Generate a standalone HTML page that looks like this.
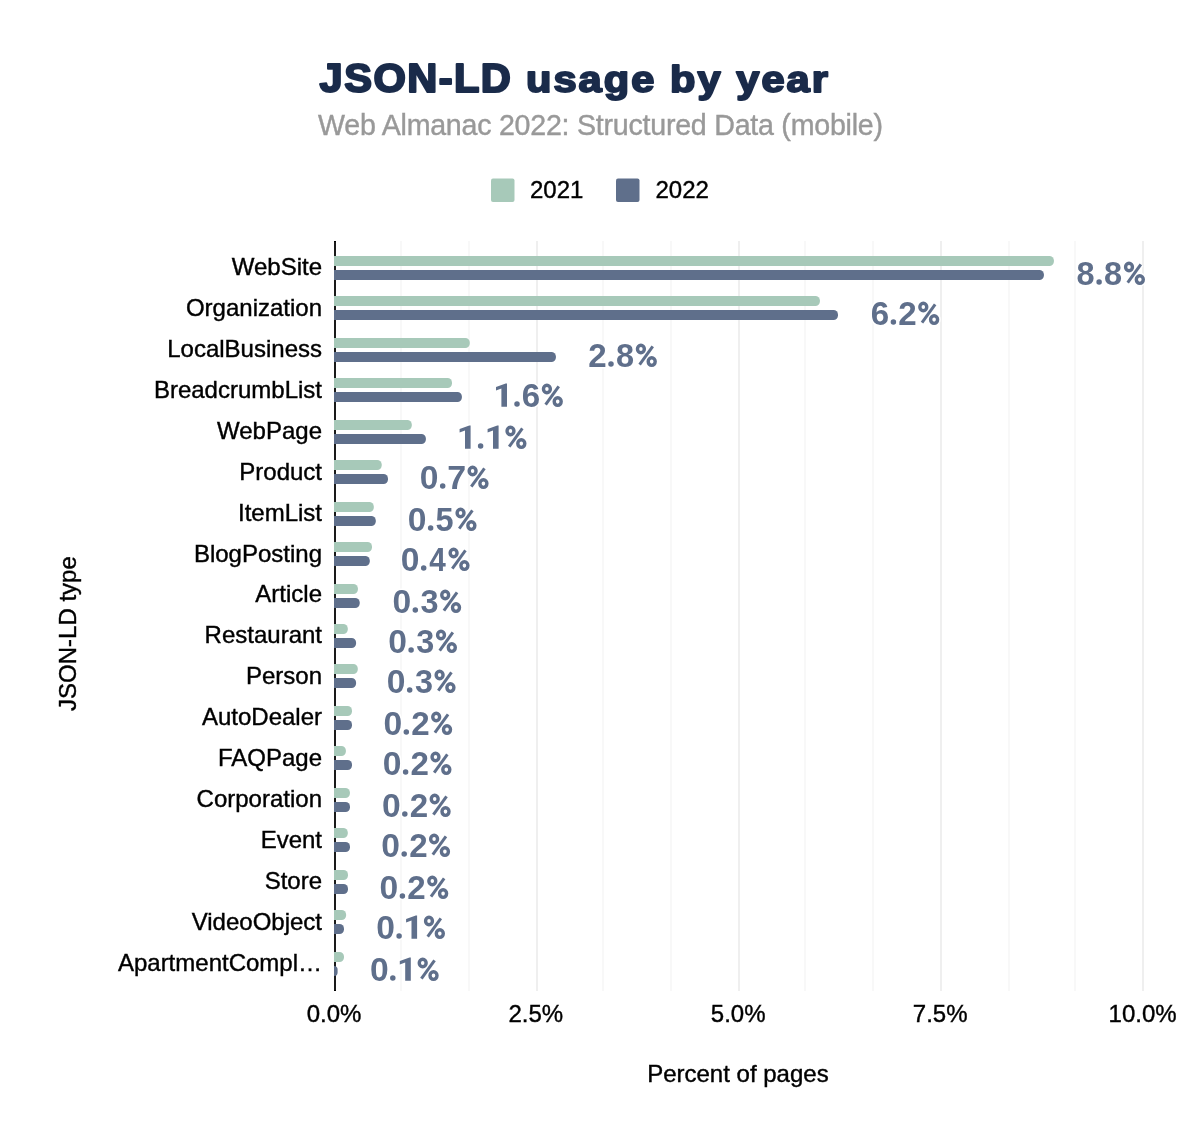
<!DOCTYPE html>
<html><head><meta charset="utf-8"><style>
html,body{margin:0;padding:0;background:#fff;}
svg{display:block;will-change:transform;}
text{font-family:"Liberation Sans",sans-serif;}
.yl{font-size:24px;fill:#000;text-anchor:end;stroke:#000;stroke-width:0.4px;}
.xl{font-size:24px;fill:#000;text-anchor:middle;stroke:#000;stroke-width:0.4px;}
.v{font-size:32.8px;font-weight:bold;fill:#5f6f8b;}
.t{font-size:41.6px;font-weight:bold;fill:#1a2b4a;stroke:#1a2b4a;stroke-width:2.2px;stroke-linejoin:round;}
.st{font-size:28.6px;fill:#999;letter-spacing:-0.24px;stroke:#999;stroke-width:0.4px;}
.lg{font-size:24px;fill:#000;stroke:#000;stroke-width:0.4px;}
</style></head><body>
<svg width="1200" height="1144" viewBox="0 0 1200 1144">
<text transform="translate(319.6,92.0) scale(1.0,0.975)" class="t" style="letter-spacing:1.45px">JSON-LD</text>
<text transform="translate(526,92.0) scale(1.0,0.87)" class="t" style="letter-spacing:2.05px">usage by year</text>
<text x="318" y="134.5" class="st">Web Almanac 2022: Structured Data (mobile)</text>
<rect x="491" y="178.4" width="23.5" height="23.5" rx="2" fill="#a7c9b9"/>
<text x="530" y="197.6" class="lg">2021</text>
<rect x="616" y="178.4" width="23.5" height="23.5" rx="2" fill="#5f6f8b"/>
<text x="655.5" y="197.6" class="lg">2022</text>
<rect x="400" y="241" width="2" height="750" fill="#f8f8f8"/>
<rect x="468" y="241" width="2" height="750" fill="#f8f8f8"/>
<rect x="602" y="241" width="2" height="750" fill="#f8f8f8"/>
<rect x="670" y="241" width="2" height="750" fill="#f8f8f8"/>
<rect x="804" y="241" width="2" height="750" fill="#f8f8f8"/>
<rect x="872" y="241" width="2" height="750" fill="#f8f8f8"/>
<rect x="1008" y="241" width="2" height="750" fill="#f8f8f8"/>
<rect x="1074" y="241" width="2" height="750" fill="#f8f8f8"/>
<rect x="536" y="241" width="2" height="750" fill="#efefef"/>
<rect x="738" y="241" width="2" height="750" fill="#efefef"/>
<rect x="940" y="241" width="2" height="750" fill="#efefef"/>
<rect x="1142" y="241" width="2" height="750" fill="#efefef"/>
<rect x="334" y="241" width="2" height="750" fill="#1a1a1a"/>
<rect x="334" y="241" width="2" height="1" fill="#000"/>
<rect x="334" y="990" width="2" height="1" fill="#000"/>
<path d="M334.0,256h715.40a4.5,4.5 0 0 1 4.5,4.5v1.0a4.5,4.5 0 0 1 -4.5,4.5h-715.40z" fill="#a7c9b9"/>
<path d="M334.0,270h705.40a4.5,4.5 0 0 1 4.5,4.5v1.0a4.5,4.5 0 0 1 -4.5,4.5h-705.40z" fill="#5f6f8b"/>
<text transform="translate(1076.48,285.00) scale(0.991,1.025)" class="v" style="fill:#fff" stroke="#fff" stroke-width="3.0" stroke-linejoin="round">8</text><text transform="translate(1104.08,285.00) scale(0.991,1.025)" class="v" style="fill:#fff" stroke="#fff" stroke-width="3.0" stroke-linejoin="round">8</text><circle cx="1099.10" cy="282.05" r="2.75" fill="#fff" stroke="#fff" stroke-width="3.0" stroke-linejoin="round"/><ellipse cx="1129.00" cy="267.00" rx="3.45" ry="3.80" fill="none" stroke="#fff" stroke-width="6.4"/><ellipse cx="1139.80" cy="279.60" rx="3.50" ry="3.80" fill="none" stroke="#fff" stroke-width="6.4"/><line x1="1127.70" y1="282.60" x2="1140.85" y2="264.35" stroke="#fff" stroke-width="6.0"/><text transform="translate(1076.48,285.00) scale(0.991,1.025)" class="v" style="fill:#5f6f8b">8</text><text transform="translate(1104.08,285.00) scale(0.991,1.025)" class="v" style="fill:#5f6f8b">8</text><circle cx="1099.10" cy="282.05" r="2.75" fill="#5f6f8b"/><ellipse cx="1129.00" cy="267.00" rx="3.45" ry="3.80" fill="none" stroke="#5f6f8b" stroke-width="3.4"/><ellipse cx="1139.80" cy="279.60" rx="3.50" ry="3.80" fill="none" stroke="#5f6f8b" stroke-width="3.4"/><line x1="1127.70" y1="282.60" x2="1140.85" y2="264.35" stroke="#5f6f8b" stroke-width="3"/>
<text x="322" y="275.00" class="yl">WebSite</text>
<path d="M334.0,296h481.40a4.5,4.5 0 0 1 4.5,4.5v1.0a4.5,4.5 0 0 1 -4.5,4.5h-481.40z" fill="#a7c9b9"/>
<path d="M334.0,310h499.50a4.5,4.5 0 0 1 4.5,4.5v1.0a4.5,4.5 0 0 1 -4.5,4.5h-499.50z" fill="#5f6f8b"/>
<text transform="translate(870.65,325.00) scale(1.009,1.025)" class="v" style="fill:#fff" stroke="#fff" stroke-width="3.0" stroke-linejoin="round">6</text><text transform="translate(898.33,325.00) scale(1.010,1.025)" class="v" style="fill:#fff" stroke="#fff" stroke-width="3.0" stroke-linejoin="round">2</text><circle cx="893.40" cy="322.05" r="2.75" fill="#fff" stroke="#fff" stroke-width="3.0" stroke-linejoin="round"/><ellipse cx="923.30" cy="307.00" rx="3.45" ry="3.80" fill="none" stroke="#fff" stroke-width="6.4"/><ellipse cx="934.10" cy="319.60" rx="3.50" ry="3.80" fill="none" stroke="#fff" stroke-width="6.4"/><line x1="922.00" y1="322.60" x2="935.15" y2="304.35" stroke="#fff" stroke-width="6.0"/><text transform="translate(870.65,325.00) scale(1.009,1.025)" class="v" style="fill:#5f6f8b">6</text><text transform="translate(898.33,325.00) scale(1.010,1.025)" class="v" style="fill:#5f6f8b">2</text><circle cx="893.40" cy="322.05" r="2.75" fill="#5f6f8b"/><ellipse cx="923.30" cy="307.00" rx="3.45" ry="3.80" fill="none" stroke="#5f6f8b" stroke-width="3.4"/><ellipse cx="934.10" cy="319.60" rx="3.50" ry="3.80" fill="none" stroke="#5f6f8b" stroke-width="3.4"/><line x1="922.00" y1="322.60" x2="935.15" y2="304.35" stroke="#5f6f8b" stroke-width="3"/>
<text x="322" y="315.93" class="yl">Organization</text>
<path d="M334.0,338h131.30a4.5,4.5 0 0 1 4.5,4.5v1.0a4.5,4.5 0 0 1 -4.5,4.5h-131.30z" fill="#a7c9b9"/>
<path d="M334.0,352h217.40a4.5,4.5 0 0 1 4.5,4.5v1.0a4.5,4.5 0 0 1 -4.5,4.5h-217.40z" fill="#5f6f8b"/>
<text transform="translate(588.33,367.00) scale(1.010,1.025)" class="v" style="fill:#fff" stroke="#fff" stroke-width="3.0" stroke-linejoin="round">2</text><text transform="translate(615.98,367.00) scale(0.991,1.025)" class="v" style="fill:#fff" stroke="#fff" stroke-width="3.0" stroke-linejoin="round">8</text><circle cx="611.00" cy="364.05" r="2.75" fill="#fff" stroke="#fff" stroke-width="3.0" stroke-linejoin="round"/><ellipse cx="640.90" cy="349.00" rx="3.45" ry="3.80" fill="none" stroke="#fff" stroke-width="6.4"/><ellipse cx="651.70" cy="361.60" rx="3.50" ry="3.80" fill="none" stroke="#fff" stroke-width="6.4"/><line x1="639.60" y1="364.60" x2="652.75" y2="346.35" stroke="#fff" stroke-width="6.0"/><text transform="translate(588.33,367.00) scale(1.010,1.025)" class="v" style="fill:#5f6f8b">2</text><text transform="translate(615.98,367.00) scale(0.991,1.025)" class="v" style="fill:#5f6f8b">8</text><circle cx="611.00" cy="364.05" r="2.75" fill="#5f6f8b"/><ellipse cx="640.90" cy="349.00" rx="3.45" ry="3.80" fill="none" stroke="#5f6f8b" stroke-width="3.4"/><ellipse cx="651.70" cy="361.60" rx="3.50" ry="3.80" fill="none" stroke="#5f6f8b" stroke-width="3.4"/><line x1="639.60" y1="364.60" x2="652.75" y2="346.35" stroke="#5f6f8b" stroke-width="3"/>
<text x="322" y="356.86" class="yl">LocalBusiness</text>
<path d="M334.0,378h113.50a4.5,4.5 0 0 1 4.5,4.5v1.0a4.5,4.5 0 0 1 -4.5,4.5h-113.50z" fill="#a7c9b9"/>
<path d="M334.0,392h123.40a4.5,4.5 0 0 1 4.5,4.5v1.0a4.5,4.5 0 0 1 -4.5,4.5h-123.40z" fill="#5f6f8b"/>
<polygon points="507.00,383.50 507.00,406.80 501.40,406.80 501.40,388.60 496.00,390.50 496.00,387.00 505.70,383.50" fill="#fff" stroke="#fff" stroke-width="3.0" stroke-linejoin="round"/><text transform="translate(521.85,407.00) scale(1.009,1.025)" class="v" style="fill:#fff" stroke="#fff" stroke-width="3.0" stroke-linejoin="round">6</text><circle cx="517.00" cy="404.05" r="2.75" fill="#fff" stroke="#fff" stroke-width="3.0" stroke-linejoin="round"/><ellipse cx="546.90" cy="389.00" rx="3.45" ry="3.80" fill="none" stroke="#fff" stroke-width="6.4"/><ellipse cx="557.70" cy="401.60" rx="3.50" ry="3.80" fill="none" stroke="#fff" stroke-width="6.4"/><line x1="545.60" y1="404.60" x2="558.75" y2="386.35" stroke="#fff" stroke-width="6.0"/><polygon points="507.00,383.50 507.00,406.80 501.40,406.80 501.40,388.60 496.00,390.50 496.00,387.00 505.70,383.50" fill="#5f6f8b"/><text transform="translate(521.85,407.00) scale(1.009,1.025)" class="v" style="fill:#5f6f8b">6</text><circle cx="517.00" cy="404.05" r="2.75" fill="#5f6f8b"/><ellipse cx="546.90" cy="389.00" rx="3.45" ry="3.80" fill="none" stroke="#5f6f8b" stroke-width="3.4"/><ellipse cx="557.70" cy="401.60" rx="3.50" ry="3.80" fill="none" stroke="#5f6f8b" stroke-width="3.4"/><line x1="545.60" y1="404.60" x2="558.75" y2="386.35" stroke="#5f6f8b" stroke-width="3"/>
<text x="322" y="397.79" class="yl">BreadcrumbList</text>
<path d="M334.0,420h73.30a4.5,4.5 0 0 1 4.5,4.5v1.0a4.5,4.5 0 0 1 -4.5,4.5h-73.30z" fill="#a7c9b9"/>
<path d="M334.0,434h87.40a4.5,4.5 0 0 1 4.5,4.5v1.0a4.5,4.5 0 0 1 -4.5,4.5h-87.40z" fill="#5f6f8b"/>
<polygon points="470.60,425.50 470.60,448.80 465.00,448.80 465.00,430.60 459.60,432.50 459.60,429.00 469.30,425.50" fill="#fff" stroke="#fff" stroke-width="3.0" stroke-linejoin="round"/><polygon points="498.60,425.50 498.60,448.80 493.00,448.80 493.00,430.60 487.60,432.50 487.60,429.00 497.30,425.50" fill="#fff" stroke="#fff" stroke-width="3.0" stroke-linejoin="round"/><circle cx="480.60" cy="446.05" r="2.75" fill="#fff" stroke="#fff" stroke-width="3.0" stroke-linejoin="round"/><ellipse cx="510.50" cy="431.00" rx="3.45" ry="3.80" fill="none" stroke="#fff" stroke-width="6.4"/><ellipse cx="521.30" cy="443.60" rx="3.50" ry="3.80" fill="none" stroke="#fff" stroke-width="6.4"/><line x1="509.20" y1="446.60" x2="522.35" y2="428.35" stroke="#fff" stroke-width="6.0"/><polygon points="470.60,425.50 470.60,448.80 465.00,448.80 465.00,430.60 459.60,432.50 459.60,429.00 469.30,425.50" fill="#5f6f8b"/><polygon points="498.60,425.50 498.60,448.80 493.00,448.80 493.00,430.60 487.60,432.50 487.60,429.00 497.30,425.50" fill="#5f6f8b"/><circle cx="480.60" cy="446.05" r="2.75" fill="#5f6f8b"/><ellipse cx="510.50" cy="431.00" rx="3.45" ry="3.80" fill="none" stroke="#5f6f8b" stroke-width="3.4"/><ellipse cx="521.30" cy="443.60" rx="3.50" ry="3.80" fill="none" stroke="#5f6f8b" stroke-width="3.4"/><line x1="509.20" y1="446.60" x2="522.35" y2="428.35" stroke="#5f6f8b" stroke-width="3"/>
<text x="322" y="438.72" class="yl">WebPage</text>
<path d="M334.0,460h43.20a4.5,4.5 0 0 1 4.5,4.5v1.0a4.5,4.5 0 0 1 -4.5,4.5h-43.20z" fill="#a7c9b9"/>
<path d="M334.0,474h49.50a4.5,4.5 0 0 1 4.5,4.5v1.0a4.5,4.5 0 0 1 -4.5,4.5h-49.50z" fill="#5f6f8b"/>
<text transform="translate(419.83,489.00) scale(1.025,1.025)" class="v" style="fill:#fff" stroke="#fff" stroke-width="3.0" stroke-linejoin="round">0</text><text transform="translate(447.33,489.00) scale(1.035,1.025)" class="v" style="fill:#fff" stroke="#fff" stroke-width="3.0" stroke-linejoin="round">7</text><circle cx="442.70" cy="486.05" r="2.75" fill="#fff" stroke="#fff" stroke-width="3.0" stroke-linejoin="round"/><ellipse cx="472.60" cy="471.00" rx="3.45" ry="3.80" fill="none" stroke="#fff" stroke-width="6.4"/><ellipse cx="483.40" cy="483.60" rx="3.50" ry="3.80" fill="none" stroke="#fff" stroke-width="6.4"/><line x1="471.30" y1="486.60" x2="484.45" y2="468.35" stroke="#fff" stroke-width="6.0"/><text transform="translate(419.83,489.00) scale(1.025,1.025)" class="v" style="fill:#5f6f8b">0</text><text transform="translate(447.33,489.00) scale(1.035,1.025)" class="v" style="fill:#5f6f8b">7</text><circle cx="442.70" cy="486.05" r="2.75" fill="#5f6f8b"/><ellipse cx="472.60" cy="471.00" rx="3.45" ry="3.80" fill="none" stroke="#5f6f8b" stroke-width="3.4"/><ellipse cx="483.40" cy="483.60" rx="3.50" ry="3.80" fill="none" stroke="#5f6f8b" stroke-width="3.4"/><line x1="471.30" y1="486.60" x2="484.45" y2="468.35" stroke="#5f6f8b" stroke-width="3"/>
<text x="322" y="479.65" class="yl">Product</text>
<path d="M334.0,502h35.30a4.5,4.5 0 0 1 4.5,4.5v1.0a4.5,4.5 0 0 1 -4.5,4.5h-35.30z" fill="#a7c9b9"/>
<path d="M334.0,516h37.30a4.5,4.5 0 0 1 4.5,4.5v1.0a4.5,4.5 0 0 1 -4.5,4.5h-37.30z" fill="#5f6f8b"/>
<text transform="translate(407.78,531.00) scale(1.025,1.025)" class="v" style="fill:#fff" stroke="#fff" stroke-width="3.0" stroke-linejoin="round">0</text><text transform="translate(435.55,531.00) scale(0.990,1.025)" class="v" style="fill:#fff" stroke="#fff" stroke-width="3.0" stroke-linejoin="round">5</text><circle cx="430.65" cy="528.05" r="2.75" fill="#fff" stroke="#fff" stroke-width="3.0" stroke-linejoin="round"/><ellipse cx="460.55" cy="513.00" rx="3.45" ry="3.80" fill="none" stroke="#fff" stroke-width="6.4"/><ellipse cx="471.35" cy="525.60" rx="3.50" ry="3.80" fill="none" stroke="#fff" stroke-width="6.4"/><line x1="459.25" y1="528.60" x2="472.40" y2="510.35" stroke="#fff" stroke-width="6.0"/><text transform="translate(407.78,531.00) scale(1.025,1.025)" class="v" style="fill:#5f6f8b">0</text><text transform="translate(435.55,531.00) scale(0.990,1.025)" class="v" style="fill:#5f6f8b">5</text><circle cx="430.65" cy="528.05" r="2.75" fill="#5f6f8b"/><ellipse cx="460.55" cy="513.00" rx="3.45" ry="3.80" fill="none" stroke="#5f6f8b" stroke-width="3.4"/><ellipse cx="471.35" cy="525.60" rx="3.50" ry="3.80" fill="none" stroke="#5f6f8b" stroke-width="3.4"/><line x1="459.25" y1="528.60" x2="472.40" y2="510.35" stroke="#5f6f8b" stroke-width="3"/>
<text x="322" y="520.58" class="yl">ItemList</text>
<path d="M334.0,542h33.50a4.5,4.5 0 0 1 4.5,4.5v1.0a4.5,4.5 0 0 1 -4.5,4.5h-33.50z" fill="#a7c9b9"/>
<path d="M334.0,556h31.30a4.5,4.5 0 0 1 4.5,4.5v1.0a4.5,4.5 0 0 1 -4.5,4.5h-31.30z" fill="#5f6f8b"/>
<text transform="translate(400.83,571.00) scale(1.025,1.025)" class="v" style="fill:#fff" stroke="#fff" stroke-width="3.0" stroke-linejoin="round">0</text><text transform="translate(429.34,571.00) scale(0.906,1.025)" class="v" style="fill:#fff" stroke="#fff" stroke-width="3.0" stroke-linejoin="round">4</text><circle cx="423.70" cy="568.05" r="2.75" fill="#fff" stroke="#fff" stroke-width="3.0" stroke-linejoin="round"/><ellipse cx="453.60" cy="553.00" rx="3.45" ry="3.80" fill="none" stroke="#fff" stroke-width="6.4"/><ellipse cx="464.40" cy="565.60" rx="3.50" ry="3.80" fill="none" stroke="#fff" stroke-width="6.4"/><line x1="452.30" y1="568.60" x2="465.45" y2="550.35" stroke="#fff" stroke-width="6.0"/><text transform="translate(400.83,571.00) scale(1.025,1.025)" class="v" style="fill:#5f6f8b">0</text><text transform="translate(429.34,571.00) scale(0.906,1.025)" class="v" style="fill:#5f6f8b">4</text><circle cx="423.70" cy="568.05" r="2.75" fill="#5f6f8b"/><ellipse cx="453.60" cy="553.00" rx="3.45" ry="3.80" fill="none" stroke="#5f6f8b" stroke-width="3.4"/><ellipse cx="464.40" cy="565.60" rx="3.50" ry="3.80" fill="none" stroke="#5f6f8b" stroke-width="3.4"/><line x1="452.30" y1="568.60" x2="465.45" y2="550.35" stroke="#5f6f8b" stroke-width="3"/>
<text x="322" y="561.51" class="yl">BlogPosting</text>
<path d="M334.0,584h19.40a4.5,4.5 0 0 1 4.5,4.5v1.0a4.5,4.5 0 0 1 -4.5,4.5h-19.40z" fill="#a7c9b9"/>
<path d="M334.0,598h21.20a4.5,4.5 0 0 1 4.5,4.5v1.0a4.5,4.5 0 0 1 -4.5,4.5h-21.20z" fill="#5f6f8b"/>
<text transform="translate(392.43,613.00) scale(1.025,1.025)" class="v" style="fill:#fff" stroke="#fff" stroke-width="3.0" stroke-linejoin="round">0</text><text transform="translate(420.51,613.00) scale(0.988,1.025)" class="v" style="fill:#fff" stroke="#fff" stroke-width="3.0" stroke-linejoin="round">3</text><circle cx="415.30" cy="610.05" r="2.75" fill="#fff" stroke="#fff" stroke-width="3.0" stroke-linejoin="round"/><ellipse cx="445.20" cy="595.00" rx="3.45" ry="3.80" fill="none" stroke="#fff" stroke-width="6.4"/><ellipse cx="456.00" cy="607.60" rx="3.50" ry="3.80" fill="none" stroke="#fff" stroke-width="6.4"/><line x1="443.90" y1="610.60" x2="457.05" y2="592.35" stroke="#fff" stroke-width="6.0"/><text transform="translate(392.43,613.00) scale(1.025,1.025)" class="v" style="fill:#5f6f8b">0</text><text transform="translate(420.51,613.00) scale(0.988,1.025)" class="v" style="fill:#5f6f8b">3</text><circle cx="415.30" cy="610.05" r="2.75" fill="#5f6f8b"/><ellipse cx="445.20" cy="595.00" rx="3.45" ry="3.80" fill="none" stroke="#5f6f8b" stroke-width="3.4"/><ellipse cx="456.00" cy="607.60" rx="3.50" ry="3.80" fill="none" stroke="#5f6f8b" stroke-width="3.4"/><line x1="443.90" y1="610.60" x2="457.05" y2="592.35" stroke="#5f6f8b" stroke-width="3"/>
<text x="322" y="602.44" class="yl">Article</text>
<path d="M334.0,624h9.30a4.5,4.5 0 0 1 4.5,4.5v1.0a4.5,4.5 0 0 1 -4.5,4.5h-9.30z" fill="#a7c9b9"/>
<path d="M334.0,638h17.60a4.5,4.5 0 0 1 4.5,4.5v1.0a4.5,4.5 0 0 1 -4.5,4.5h-17.60z" fill="#5f6f8b"/>
<text transform="translate(388.23,653.00) scale(1.025,1.025)" class="v" style="fill:#fff" stroke="#fff" stroke-width="3.0" stroke-linejoin="round">0</text><text transform="translate(416.31,653.00) scale(0.988,1.025)" class="v" style="fill:#fff" stroke="#fff" stroke-width="3.0" stroke-linejoin="round">3</text><circle cx="411.10" cy="650.05" r="2.75" fill="#fff" stroke="#fff" stroke-width="3.0" stroke-linejoin="round"/><ellipse cx="441.00" cy="635.00" rx="3.45" ry="3.80" fill="none" stroke="#fff" stroke-width="6.4"/><ellipse cx="451.80" cy="647.60" rx="3.50" ry="3.80" fill="none" stroke="#fff" stroke-width="6.4"/><line x1="439.70" y1="650.60" x2="452.85" y2="632.35" stroke="#fff" stroke-width="6.0"/><text transform="translate(388.23,653.00) scale(1.025,1.025)" class="v" style="fill:#5f6f8b">0</text><text transform="translate(416.31,653.00) scale(0.988,1.025)" class="v" style="fill:#5f6f8b">3</text><circle cx="411.10" cy="650.05" r="2.75" fill="#5f6f8b"/><ellipse cx="441.00" cy="635.00" rx="3.45" ry="3.80" fill="none" stroke="#5f6f8b" stroke-width="3.4"/><ellipse cx="451.80" cy="647.60" rx="3.50" ry="3.80" fill="none" stroke="#5f6f8b" stroke-width="3.4"/><line x1="439.70" y1="650.60" x2="452.85" y2="632.35" stroke="#5f6f8b" stroke-width="3"/>
<text x="322" y="643.37" class="yl">Restaurant</text>
<path d="M334.0,664h19.30a4.5,4.5 0 0 1 4.5,4.5v1.0a4.5,4.5 0 0 1 -4.5,4.5h-19.30z" fill="#a7c9b9"/>
<path d="M334.0,678h17.60a4.5,4.5 0 0 1 4.5,4.5v1.0a4.5,4.5 0 0 1 -4.5,4.5h-17.60z" fill="#5f6f8b"/>
<text transform="translate(386.83,693.00) scale(1.025,1.025)" class="v" style="fill:#fff" stroke="#fff" stroke-width="3.0" stroke-linejoin="round">0</text><text transform="translate(414.91,693.00) scale(0.988,1.025)" class="v" style="fill:#fff" stroke="#fff" stroke-width="3.0" stroke-linejoin="round">3</text><circle cx="409.70" cy="690.05" r="2.75" fill="#fff" stroke="#fff" stroke-width="3.0" stroke-linejoin="round"/><ellipse cx="439.60" cy="675.00" rx="3.45" ry="3.80" fill="none" stroke="#fff" stroke-width="6.4"/><ellipse cx="450.40" cy="687.60" rx="3.50" ry="3.80" fill="none" stroke="#fff" stroke-width="6.4"/><line x1="438.30" y1="690.60" x2="451.45" y2="672.35" stroke="#fff" stroke-width="6.0"/><text transform="translate(386.83,693.00) scale(1.025,1.025)" class="v" style="fill:#5f6f8b">0</text><text transform="translate(414.91,693.00) scale(0.988,1.025)" class="v" style="fill:#5f6f8b">3</text><circle cx="409.70" cy="690.05" r="2.75" fill="#5f6f8b"/><ellipse cx="439.60" cy="675.00" rx="3.45" ry="3.80" fill="none" stroke="#5f6f8b" stroke-width="3.4"/><ellipse cx="450.40" cy="687.60" rx="3.50" ry="3.80" fill="none" stroke="#5f6f8b" stroke-width="3.4"/><line x1="438.30" y1="690.60" x2="451.45" y2="672.35" stroke="#5f6f8b" stroke-width="3"/>
<text x="322" y="684.30" class="yl">Person</text>
<path d="M334.0,706h13.50a4.5,4.5 0 0 1 4.5,4.5v1.0a4.5,4.5 0 0 1 -4.5,4.5h-13.50z" fill="#a7c9b9"/>
<path d="M334.0,720h13.50a4.5,4.5 0 0 1 4.5,4.5v1.0a4.5,4.5 0 0 1 -4.5,4.5h-13.50z" fill="#5f6f8b"/>
<text transform="translate(383.43,735.00) scale(1.025,1.025)" class="v" style="fill:#fff" stroke="#fff" stroke-width="3.0" stroke-linejoin="round">0</text><text transform="translate(411.23,735.00) scale(1.010,1.025)" class="v" style="fill:#fff" stroke="#fff" stroke-width="3.0" stroke-linejoin="round">2</text><circle cx="406.30" cy="732.05" r="2.75" fill="#fff" stroke="#fff" stroke-width="3.0" stroke-linejoin="round"/><ellipse cx="436.20" cy="717.00" rx="3.45" ry="3.80" fill="none" stroke="#fff" stroke-width="6.4"/><ellipse cx="447.00" cy="729.60" rx="3.50" ry="3.80" fill="none" stroke="#fff" stroke-width="6.4"/><line x1="434.90" y1="732.60" x2="448.05" y2="714.35" stroke="#fff" stroke-width="6.0"/><text transform="translate(383.43,735.00) scale(1.025,1.025)" class="v" style="fill:#5f6f8b">0</text><text transform="translate(411.23,735.00) scale(1.010,1.025)" class="v" style="fill:#5f6f8b">2</text><circle cx="406.30" cy="732.05" r="2.75" fill="#5f6f8b"/><ellipse cx="436.20" cy="717.00" rx="3.45" ry="3.80" fill="none" stroke="#5f6f8b" stroke-width="3.4"/><ellipse cx="447.00" cy="729.60" rx="3.50" ry="3.80" fill="none" stroke="#5f6f8b" stroke-width="3.4"/><line x1="434.90" y1="732.60" x2="448.05" y2="714.35" stroke="#5f6f8b" stroke-width="3"/>
<text x="322" y="725.23" class="yl">AutoDealer</text>
<path d="M334.0,746h7.40a4.5,4.5 0 0 1 4.5,4.5v1.0a4.5,4.5 0 0 1 -4.5,4.5h-7.40z" fill="#a7c9b9"/>
<path d="M334.0,760h13.50a4.5,4.5 0 0 1 4.5,4.5v1.0a4.5,4.5 0 0 1 -4.5,4.5h-13.50z" fill="#5f6f8b"/>
<text transform="translate(382.73,775.00) scale(1.025,1.025)" class="v" style="fill:#fff" stroke="#fff" stroke-width="3.0" stroke-linejoin="round">0</text><text transform="translate(410.53,775.00) scale(1.010,1.025)" class="v" style="fill:#fff" stroke="#fff" stroke-width="3.0" stroke-linejoin="round">2</text><circle cx="405.60" cy="772.05" r="2.75" fill="#fff" stroke="#fff" stroke-width="3.0" stroke-linejoin="round"/><ellipse cx="435.50" cy="757.00" rx="3.45" ry="3.80" fill="none" stroke="#fff" stroke-width="6.4"/><ellipse cx="446.30" cy="769.60" rx="3.50" ry="3.80" fill="none" stroke="#fff" stroke-width="6.4"/><line x1="434.20" y1="772.60" x2="447.35" y2="754.35" stroke="#fff" stroke-width="6.0"/><text transform="translate(382.73,775.00) scale(1.025,1.025)" class="v" style="fill:#5f6f8b">0</text><text transform="translate(410.53,775.00) scale(1.010,1.025)" class="v" style="fill:#5f6f8b">2</text><circle cx="405.60" cy="772.05" r="2.75" fill="#5f6f8b"/><ellipse cx="435.50" cy="757.00" rx="3.45" ry="3.80" fill="none" stroke="#5f6f8b" stroke-width="3.4"/><ellipse cx="446.30" cy="769.60" rx="3.50" ry="3.80" fill="none" stroke="#5f6f8b" stroke-width="3.4"/><line x1="434.20" y1="772.60" x2="447.35" y2="754.35" stroke="#5f6f8b" stroke-width="3"/>
<text x="322" y="766.16" class="yl">FAQPage</text>
<path d="M334.0,788h11.40a4.5,4.5 0 0 1 4.5,4.5v1.0a4.5,4.5 0 0 1 -4.5,4.5h-11.40z" fill="#a7c9b9"/>
<path d="M334.0,802h11.50a4.5,4.5 0 0 1 4.5,4.5v1.0a4.5,4.5 0 0 1 -4.5,4.5h-11.50z" fill="#5f6f8b"/>
<text transform="translate(381.93,817.00) scale(1.025,1.025)" class="v" style="fill:#fff" stroke="#fff" stroke-width="3.0" stroke-linejoin="round">0</text><text transform="translate(409.73,817.00) scale(1.010,1.025)" class="v" style="fill:#fff" stroke="#fff" stroke-width="3.0" stroke-linejoin="round">2</text><circle cx="404.80" cy="814.05" r="2.75" fill="#fff" stroke="#fff" stroke-width="3.0" stroke-linejoin="round"/><ellipse cx="434.70" cy="799.00" rx="3.45" ry="3.80" fill="none" stroke="#fff" stroke-width="6.4"/><ellipse cx="445.50" cy="811.60" rx="3.50" ry="3.80" fill="none" stroke="#fff" stroke-width="6.4"/><line x1="433.40" y1="814.60" x2="446.55" y2="796.35" stroke="#fff" stroke-width="6.0"/><text transform="translate(381.93,817.00) scale(1.025,1.025)" class="v" style="fill:#5f6f8b">0</text><text transform="translate(409.73,817.00) scale(1.010,1.025)" class="v" style="fill:#5f6f8b">2</text><circle cx="404.80" cy="814.05" r="2.75" fill="#5f6f8b"/><ellipse cx="434.70" cy="799.00" rx="3.45" ry="3.80" fill="none" stroke="#5f6f8b" stroke-width="3.4"/><ellipse cx="445.50" cy="811.60" rx="3.50" ry="3.80" fill="none" stroke="#5f6f8b" stroke-width="3.4"/><line x1="433.40" y1="814.60" x2="446.55" y2="796.35" stroke="#5f6f8b" stroke-width="3"/>
<text x="322" y="807.09" class="yl">Corporation</text>
<path d="M334.0,828h9.30a4.5,4.5 0 0 1 4.5,4.5v1.0a4.5,4.5 0 0 1 -4.5,4.5h-9.30z" fill="#a7c9b9"/>
<path d="M334.0,842h11.50a4.5,4.5 0 0 1 4.5,4.5v1.0a4.5,4.5 0 0 1 -4.5,4.5h-11.50z" fill="#5f6f8b"/>
<text transform="translate(381.33,857.00) scale(1.025,1.025)" class="v" style="fill:#fff" stroke="#fff" stroke-width="3.0" stroke-linejoin="round">0</text><text transform="translate(409.13,857.00) scale(1.010,1.025)" class="v" style="fill:#fff" stroke="#fff" stroke-width="3.0" stroke-linejoin="round">2</text><circle cx="404.20" cy="854.05" r="2.75" fill="#fff" stroke="#fff" stroke-width="3.0" stroke-linejoin="round"/><ellipse cx="434.10" cy="839.00" rx="3.45" ry="3.80" fill="none" stroke="#fff" stroke-width="6.4"/><ellipse cx="444.90" cy="851.60" rx="3.50" ry="3.80" fill="none" stroke="#fff" stroke-width="6.4"/><line x1="432.80" y1="854.60" x2="445.95" y2="836.35" stroke="#fff" stroke-width="6.0"/><text transform="translate(381.33,857.00) scale(1.025,1.025)" class="v" style="fill:#5f6f8b">0</text><text transform="translate(409.13,857.00) scale(1.010,1.025)" class="v" style="fill:#5f6f8b">2</text><circle cx="404.20" cy="854.05" r="2.75" fill="#5f6f8b"/><ellipse cx="434.10" cy="839.00" rx="3.45" ry="3.80" fill="none" stroke="#5f6f8b" stroke-width="3.4"/><ellipse cx="444.90" cy="851.60" rx="3.50" ry="3.80" fill="none" stroke="#5f6f8b" stroke-width="3.4"/><line x1="432.80" y1="854.60" x2="445.95" y2="836.35" stroke="#5f6f8b" stroke-width="3"/>
<text x="322" y="848.02" class="yl">Event</text>
<path d="M334.0,870h9.50a4.5,4.5 0 0 1 4.5,4.5v1.0a4.5,4.5 0 0 1 -4.5,4.5h-9.50z" fill="#a7c9b9"/>
<path d="M334.0,884h9.50a4.5,4.5 0 0 1 4.5,4.5v1.0a4.5,4.5 0 0 1 -4.5,4.5h-9.50z" fill="#5f6f8b"/>
<text transform="translate(379.53,899.00) scale(1.025,1.025)" class="v" style="fill:#fff" stroke="#fff" stroke-width="3.0" stroke-linejoin="round">0</text><text transform="translate(407.33,899.00) scale(1.010,1.025)" class="v" style="fill:#fff" stroke="#fff" stroke-width="3.0" stroke-linejoin="round">2</text><circle cx="402.40" cy="896.05" r="2.75" fill="#fff" stroke="#fff" stroke-width="3.0" stroke-linejoin="round"/><ellipse cx="432.30" cy="881.00" rx="3.45" ry="3.80" fill="none" stroke="#fff" stroke-width="6.4"/><ellipse cx="443.10" cy="893.60" rx="3.50" ry="3.80" fill="none" stroke="#fff" stroke-width="6.4"/><line x1="431.00" y1="896.60" x2="444.15" y2="878.35" stroke="#fff" stroke-width="6.0"/><text transform="translate(379.53,899.00) scale(1.025,1.025)" class="v" style="fill:#5f6f8b">0</text><text transform="translate(407.33,899.00) scale(1.010,1.025)" class="v" style="fill:#5f6f8b">2</text><circle cx="402.40" cy="896.05" r="2.75" fill="#5f6f8b"/><ellipse cx="432.30" cy="881.00" rx="3.45" ry="3.80" fill="none" stroke="#5f6f8b" stroke-width="3.4"/><ellipse cx="443.10" cy="893.60" rx="3.50" ry="3.80" fill="none" stroke="#5f6f8b" stroke-width="3.4"/><line x1="431.00" y1="896.60" x2="444.15" y2="878.35" stroke="#5f6f8b" stroke-width="3"/>
<text x="322" y="888.95" class="yl">Store</text>
<path d="M334.0,910h7.60a4.5,4.5 0 0 1 4.5,4.5v1.0a4.5,4.5 0 0 1 -4.5,4.5h-7.60z" fill="#a7c9b9"/>
<path d="M334.0,924h5.50a4.5,4.5 0 0 1 4.5,4.5v1.0a4.5,4.5 0 0 1 -4.5,4.5h-5.50z" fill="#5f6f8b"/>
<text transform="translate(376.23,939.00) scale(1.025,1.025)" class="v" style="fill:#fff" stroke="#fff" stroke-width="3.0" stroke-linejoin="round">0</text><polygon points="417.10,915.50 417.10,938.80 411.50,938.80 411.50,920.60 406.10,922.50 406.10,919.00 415.80,915.50" fill="#fff" stroke="#fff" stroke-width="3.0" stroke-linejoin="round"/><circle cx="399.10" cy="936.05" r="2.75" fill="#fff" stroke="#fff" stroke-width="3.0" stroke-linejoin="round"/><ellipse cx="429.00" cy="921.00" rx="3.45" ry="3.80" fill="none" stroke="#fff" stroke-width="6.4"/><ellipse cx="439.80" cy="933.60" rx="3.50" ry="3.80" fill="none" stroke="#fff" stroke-width="6.4"/><line x1="427.70" y1="936.60" x2="440.85" y2="918.35" stroke="#fff" stroke-width="6.0"/><text transform="translate(376.23,939.00) scale(1.025,1.025)" class="v" style="fill:#5f6f8b">0</text><polygon points="417.10,915.50 417.10,938.80 411.50,938.80 411.50,920.60 406.10,922.50 406.10,919.00 415.80,915.50" fill="#5f6f8b"/><circle cx="399.10" cy="936.05" r="2.75" fill="#5f6f8b"/><ellipse cx="429.00" cy="921.00" rx="3.45" ry="3.80" fill="none" stroke="#5f6f8b" stroke-width="3.4"/><ellipse cx="439.80" cy="933.60" rx="3.50" ry="3.80" fill="none" stroke="#5f6f8b" stroke-width="3.4"/><line x1="427.70" y1="936.60" x2="440.85" y2="918.35" stroke="#5f6f8b" stroke-width="3"/>
<text x="322" y="929.88" class="yl">VideoObject</text>
<path d="M334.0,952h5.50a4.5,4.5 0 0 1 4.5,4.5v1.0a4.5,4.5 0 0 1 -4.5,4.5h-5.50z" fill="#a7c9b9"/>
<path d="M334.0,966h0.00a3.6000000000000227,3.6000000000000227 0 0 1 3.6000000000000227,3.6000000000000227v2.7999999999999545a3.6000000000000227,3.6000000000000227 0 0 1 -3.6000000000000227,3.6000000000000227h-0.00z" fill="#5f6f8b"/>
<text transform="translate(369.93,981.00) scale(1.025,1.025)" class="v" style="fill:#fff" stroke="#fff" stroke-width="3.0" stroke-linejoin="round">0</text><polygon points="410.80,957.50 410.80,980.80 405.20,980.80 405.20,962.60 399.80,964.50 399.80,961.00 409.50,957.50" fill="#fff" stroke="#fff" stroke-width="3.0" stroke-linejoin="round"/><circle cx="392.80" cy="978.05" r="2.75" fill="#fff" stroke="#fff" stroke-width="3.0" stroke-linejoin="round"/><ellipse cx="422.70" cy="963.00" rx="3.45" ry="3.80" fill="none" stroke="#fff" stroke-width="6.4"/><ellipse cx="433.50" cy="975.60" rx="3.50" ry="3.80" fill="none" stroke="#fff" stroke-width="6.4"/><line x1="421.40" y1="978.60" x2="434.55" y2="960.35" stroke="#fff" stroke-width="6.0"/><text transform="translate(369.93,981.00) scale(1.025,1.025)" class="v" style="fill:#5f6f8b">0</text><polygon points="410.80,957.50 410.80,980.80 405.20,980.80 405.20,962.60 399.80,964.50 399.80,961.00 409.50,957.50" fill="#5f6f8b"/><circle cx="392.80" cy="978.05" r="2.75" fill="#5f6f8b"/><ellipse cx="422.70" cy="963.00" rx="3.45" ry="3.80" fill="none" stroke="#5f6f8b" stroke-width="3.4"/><ellipse cx="433.50" cy="975.60" rx="3.50" ry="3.80" fill="none" stroke="#5f6f8b" stroke-width="3.4"/><line x1="421.40" y1="978.60" x2="434.55" y2="960.35" stroke="#5f6f8b" stroke-width="3"/>
<text x="322" y="970.81" class="yl">ApartmentCompl…</text>
<text x="334.1" y="1021.6" class="xl">0.0%</text>
<text x="535.8" y="1021.6" class="xl">2.5%</text>
<text x="738.2" y="1021.6" class="xl">5.0%</text>
<text x="940.2" y="1021.6" class="xl">7.5%</text>
<text x="1142.6" y="1021.6" class="xl">10.0%</text>
<text x="737.9" y="1081.5" class="xl">Percent of pages</text>
<text transform="translate(76,633.6) rotate(-90)" class="xl">JSON-LD type</text>
</svg>
</body></html>
